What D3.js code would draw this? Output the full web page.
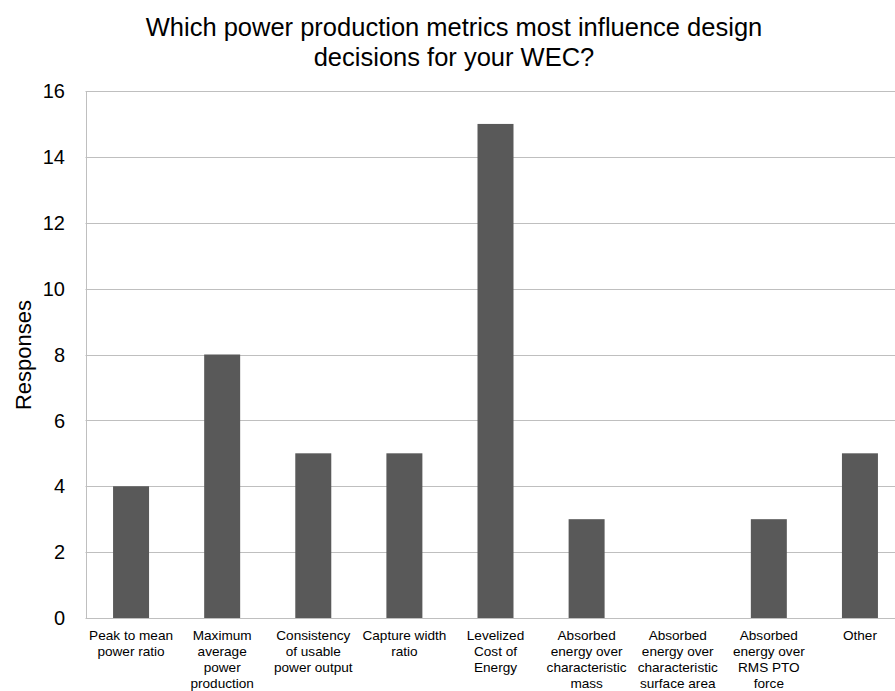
<!DOCTYPE html>
<html>
<head>
<meta charset="utf-8">
<script src="https://cdn.jsdelivr.net/npm/d3@7"></script>
<style>
  html, body { margin: 0; padding: 0; background: #fff; }
  svg { display: block; font-family: "Liberation Sans", Arial, sans-serif; }
</style>
</head>
<body>
<svg id="chart" width="895" height="691"></svg>
<script>
// Survey responses per power production metric
const categories = [
  ["Peak to mean", "power ratio"],
  ["Maximum", "average", "power", "production"],
  ["Consistency", "of usable", "power output"],
  ["Capture width", "ratio"],
  ["Levelized", "Cost of", "Energy"],
  ["Absorbed", "energy over", "characteristic", "mass"],
  ["Absorbed", "energy over", "characteristic", "surface area"],
  ["Absorbed", "energy over", "RMS PTO", "force"],
  ["Other"]
];
const responses = [4, 8, 5, 5, 15, 3, 0, 3, 5];
const yTicks = [0, 2, 4, 6, 8, 10, 12, 14, 16];
const titleLines = ["Which power production metrics most influence design", "decisions for your WEC?"];
const yLabel = "Responses";

const svg = d3.select("#chart");
const plot = { left: 85.5, right: 905.5, top: 91, bottom: 618 };

const x = d3.scaleBand()
  .domain(d3.range(categories.length))
  .range([plot.left, plot.right])
  .paddingInner(0.605)
  .paddingOuter(0.3025);

const y = d3.scaleLinear().domain([0, 16]).range([plot.bottom, plot.top]);

// Horizontal gridlines
svg.append("g")
  .selectAll("line")
  .data(yTicks)
  .join("line")
  .attr("x1", plot.left)
  .attr("x2", plot.right)
  .attr("y1", d => Math.round(y(d)) + 0.5)
  .attr("y2", d => Math.round(y(d)) + 0.5)
  .attr("stroke", "#bfbfbf")
  .attr("stroke-width", 1);

// Y axis line
svg.append("line")
  .attr("x1", Math.round(plot.left) + 0.5)
  .attr("x2", Math.round(plot.left) + 0.5)
  .attr("y1", plot.top)
  .attr("y2", plot.bottom + 0.5)
  .attr("stroke", "#bfbfbf");

// Y tick labels
svg.append("g")
  .selectAll("text")
  .data(yTicks)
  .join("text")
  .attr("x", 65)
  .attr("y", d => y(d))
  .attr("dy", "0.36em")
  .attr("text-anchor", "end")
  .attr("font-size", 20)
  .attr("fill", "#000")
  .text(d => d);

// Bars
svg.append("g")
  .selectAll("rect")
  .data(responses)
  .join("rect")
  .attr("x", (d, i) => x(i))
  .attr("width", x.bandwidth())
  .attr("y", d => y(d))
  .attr("height", d => y(0) - y(d))
  .attr("fill", "#595959");

// Category labels (multi-line)
const labels = svg.append("g")
  .selectAll("text")
  .data(categories)
  .join("text")
  .attr("text-anchor", "middle")
  .attr("font-size", 13.6)
  .attr("fill", "#000")
  .attr("transform", (d, i) => `translate(${x(i) + x.bandwidth() / 2},640)`);
labels.selectAll("tspan")
  .data(d => d)
  .join("tspan")
  .attr("x", 0)
  .attr("y", (d, j) => j * 16)
  .text(d => d);

// Y axis title
svg.append("text")
  .attr("transform", "translate(31,355) rotate(-90)")
  .attr("text-anchor", "middle")
  .attr("font-size", 22)
  .attr("fill", "#000")
  .text(yLabel);

// Chart title
svg.append("g")
  .selectAll("text")
  .data(titleLines)
  .join("text")
  .attr("x", 454)
  .attr("y", (d, i) => 36 + i * 30)
  .attr("text-anchor", "middle")
  .attr("font-size", 25.5)
  .attr("fill", "#000")
  .text(d => d);
</script>
</body>
</html>
